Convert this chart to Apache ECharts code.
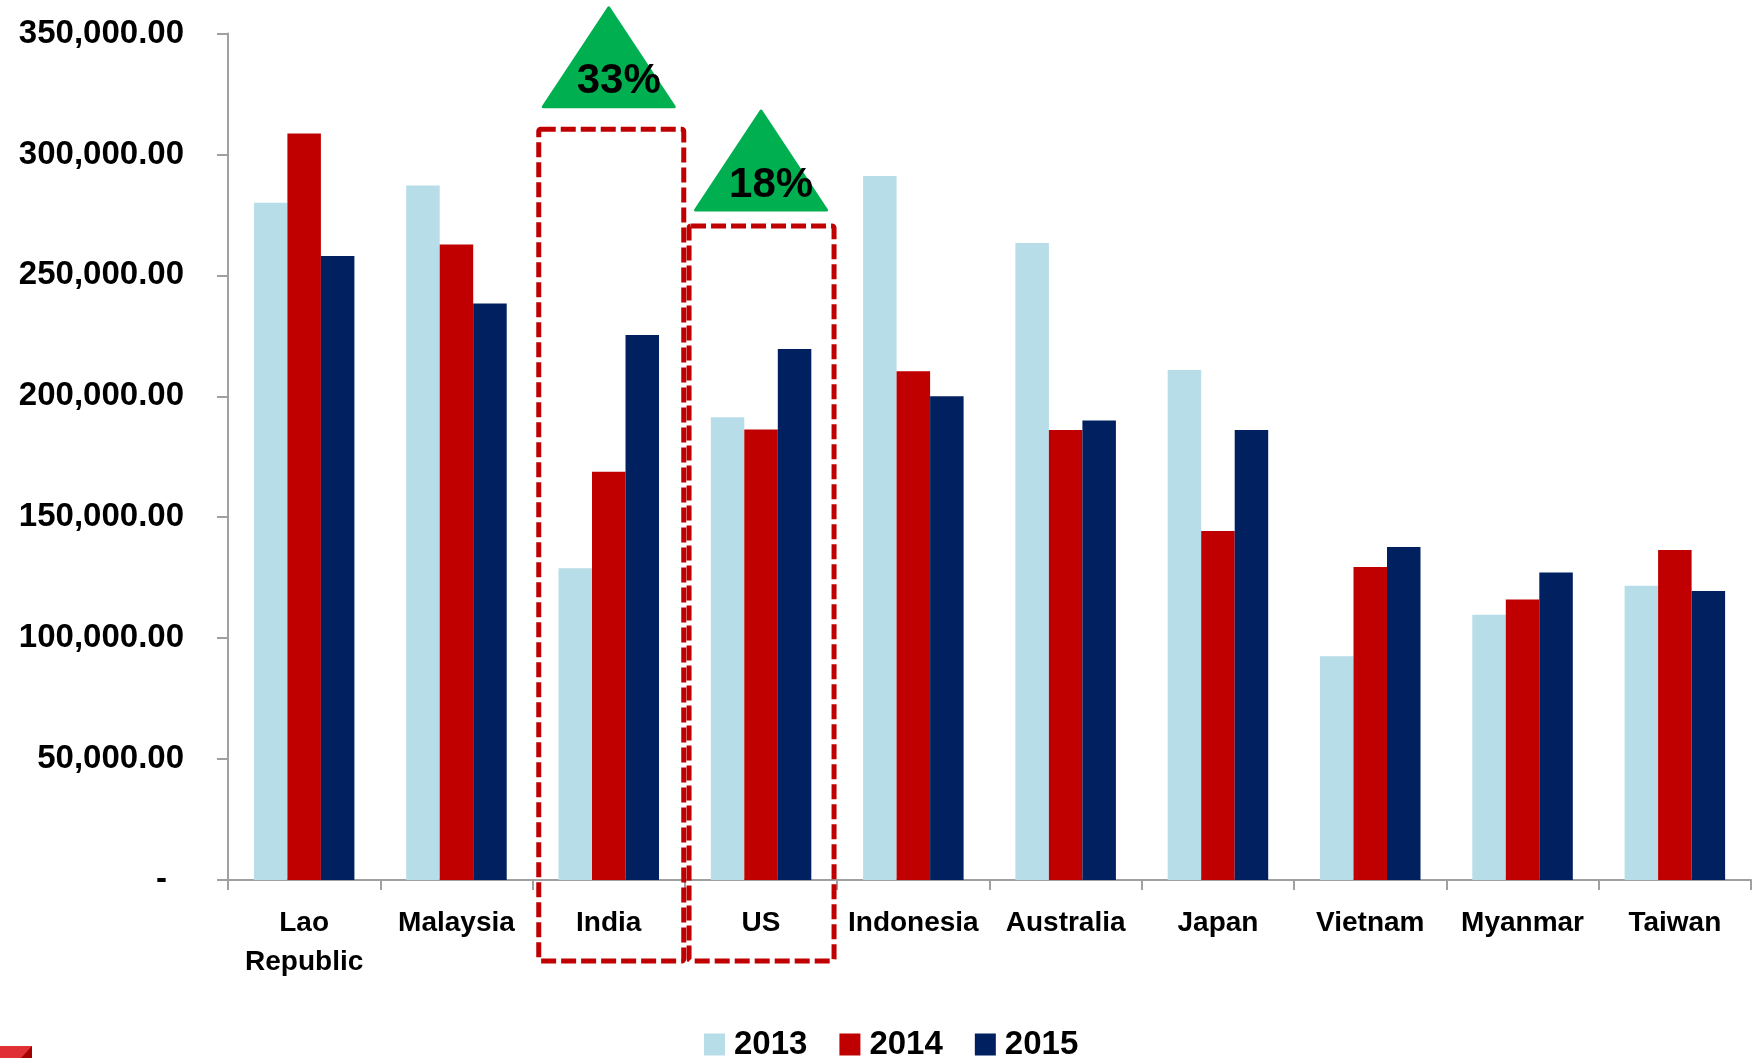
<!DOCTYPE html>
<html><head><meta charset="utf-8">
<script src="https://cdn.jsdelivr.net/npm/echarts@6/dist/echarts.min.js"></script>
<style>html,body{margin:0;padding:0;background:#fff}#c{width:1758px;height:1058px}</style>
</head><body><div id="c"></div>
<script>
const categories = ['Lao\nRepublic','Malaysia','India','US','Indonesia','Australia','Japan','Vietnam','Myanmar','Taiwan'];
const years = ['2013','2014','2015'];
const values2013 = [280000, 287200, 128900, 191300, 291100, 263400, 210900, 92500, 109700, 121700];
const values2014 = [308700, 262800, 168800, 186300, 210400, 186100, 144300, 129400, 116000, 136400];
const values2015 = [258000, 238400, 225300, 219500, 200000, 190000, 186100, 137700, 127100, 119500];
const yMin = 0, yMax = 350000, yInterval = 50000;
const annotCategories = ['India', 'US'];
const annotLabels = ['33%', '18%'];
const annotBoxTopValues = [310400, 270400];
const annotTriangleBaseValues = [319700, 277000];

const FONT = '"Liberation Sans", Arial, sans-serif';
const colors = ['#b7dde8', '#c00000', '#002060'];
const axisGray = '#a0a0a0';

const chart = echarts.init(document.getElementById('c'), null, {renderer: 'canvas'});
const option = {
  animation: false,
  backgroundColor: '#ffffff',
  grid: {left: 228, right: 7, top: 33.5, bottom: 178, containLabel: false},
  legend: {
    data: years,
    left: 704, top: 1028, padding: 0,
    itemWidth: 21, itemHeight: 22, itemGap: 32,
    icon: 'rect',
    textStyle: {fontFamily: FONT, fontWeight: 'bold', fontSize: 33, color: '#000', padding: [0, 0, 0, 4]}
  },
  xAxis: {
    type: 'category', data: categories,
    axisLine: {lineStyle: {color: axisGray, width: 2}},
    axisTick: {show: true, length: 10, lineStyle: {color: axisGray, width: 2}},
    axisLabel: {interval: 0, margin: 24, fontFamily: FONT, fontWeight: 'bold', fontSize: 28, lineHeight: 39, color: '#000'}
  },
  yAxis: {
    type: 'value', min: yMin, max: yMax, interval: yInterval,
    axisLine: {show: true, lineStyle: {color: axisGray, width: 2}},
    axisTick: {show: true, length: 11, lineStyle: {color: axisGray, width: 2}},
    splitLine: {show: false},
    axisLabel: {
      margin: 44, fontFamily: FONT, fontWeight: 'bold', fontSize: 33, color: '#000',
      formatter: v => v === 0 ? '{z|-}' : v.toLocaleString('en-US', {minimumFractionDigits: 2, maximumFractionDigits: 2}),
      rich: {z: {fontFamily: FONT, fontWeight: 'bold', fontSize: 33, color: '#000', padding: [0, 17, 0, 0]}}
    }
  },
  series: [values2013, values2014, values2015].map((d, i) => ({
    name: years[i], type: 'bar', data: d,
    barGap: '0%', barCategoryGap: '34%',
    itemStyle: {color: colors[i]}
  }))
};
chart.setOption(option);

const graphics = [];
const baseY = chart.convertToPixel({gridIndex: 0}, [0, 0])[1];
const boxShift = [2.5, 0.5];
annotCategories.forEach((cat, i) => {
  const idx = categories.indexOf(cat);
  const cx = chart.convertToPixel({gridIndex: 0}, [idx, 0])[0];
  const boxTop = chart.convertToPixel({gridIndex: 0}, [idx, annotBoxTopValues[i]])[1];
  const triBase = chart.convertToPixel({gridIndex: 0}, [idx, annotTriangleBaseValues[i]])[1];
  graphics.push({
    type: 'rect', z: 100,
    shape: {x: cx - 72.5 + boxShift[i], y: boxTop, width: 145, height: baseY + 81 - boxTop, r: 2},
    style: {fill: 'none', stroke: '#c00000', lineWidth: 5, lineDash: [15, 5]}
  });
  graphics.push({
    type: 'polygon', z: 100,
    shape: {points: [[cx, triBase - 99], [cx - 65.5, triBase], [cx + 65.5, triBase]]},
    style: {fill: '#00b050', stroke: '#00b050', lineWidth: 3, lineJoin: 'round'}
  });
  graphics.push({
    type: 'text', z: 101,
    x: cx + 10, y: triBase - 25,
    style: {text: annotLabels[i], fontFamily: FONT, fontWeight: 'bold', fontSize: 42, fill: '#000', align: 'center', verticalAlign: 'middle'}
  });
});
// decorative corner shape
graphics.push({type: 'rect', z: 100, shape: {x: 0, y: 1046, width: 32, height: 12}, style: {fill: '#e03035'}});
graphics.push({type: 'polygon', z: 101, shape: {points: [[21, 1058], [32, 1046], [32, 1058]]}, style: {fill: '#a50000'}});
chart.setOption({graphic: graphics});
</script>
</body></html>
